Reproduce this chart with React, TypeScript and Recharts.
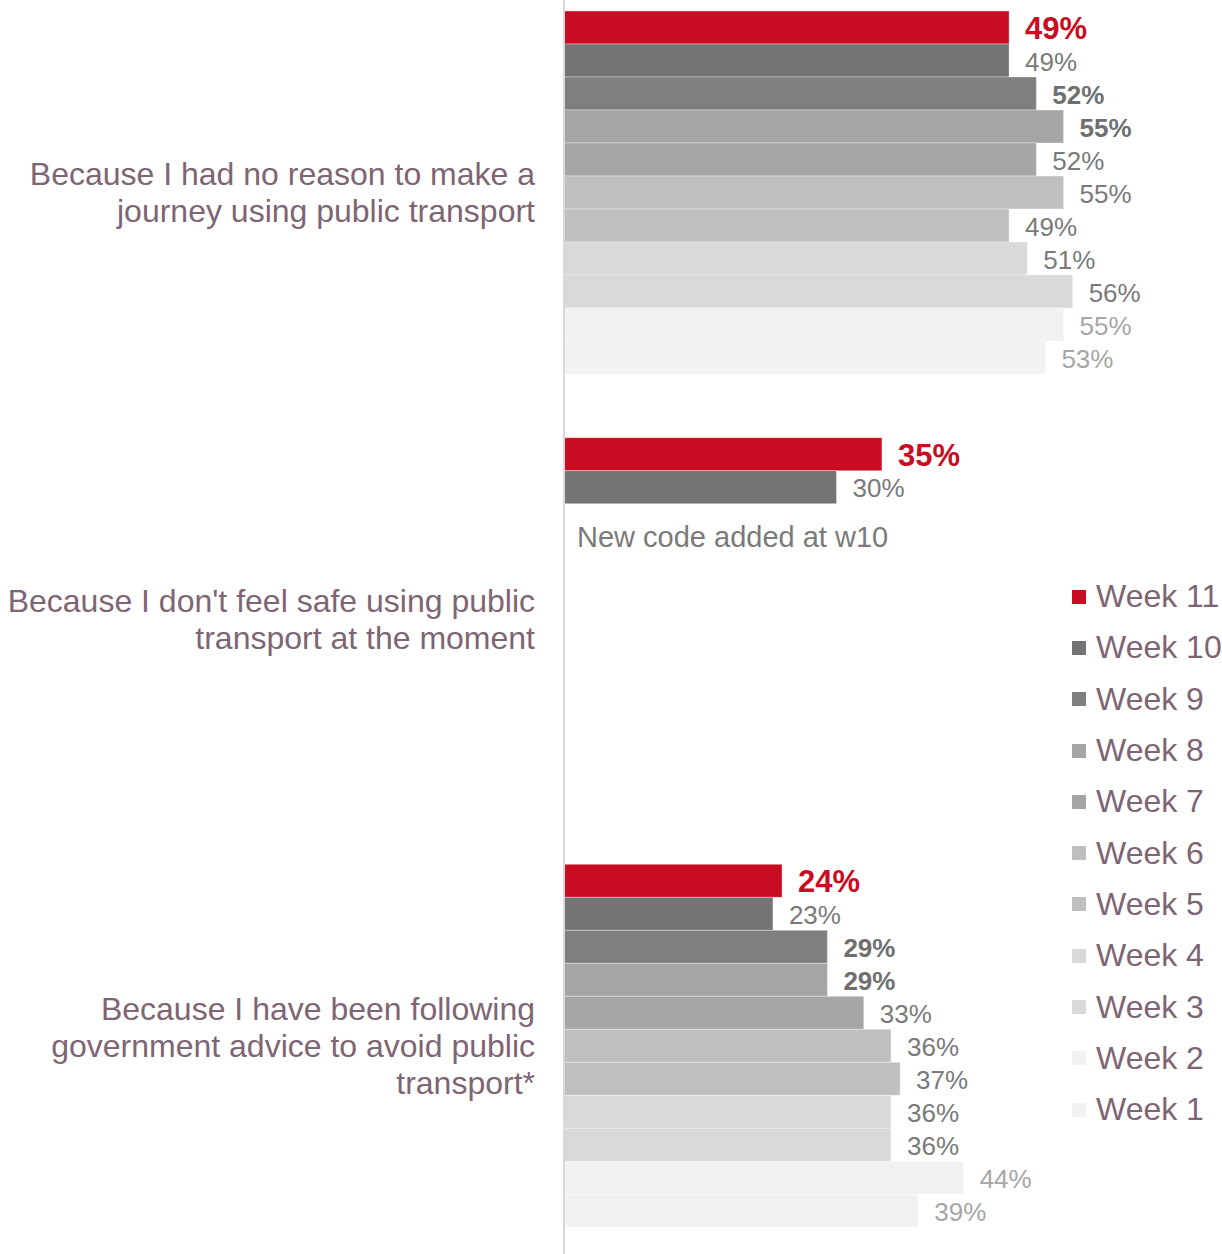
import React from 'react';
import { BarChart, Bar, XAxis, YAxis, Legend, LabelList } from 'recharts';

const categories = [
  ['Because I had no reason to make a', 'journey using public transport'],
  ["Because I don't feel safe using public", 'transport at the moment'],
  ['Because I have been following', 'government advice to avoid public', 'transport*'],
];

const weeks = ['Week 11', 'Week 10', 'Week 9', 'Week 8', 'Week 7', 'Week 6', 'Week 5', 'Week 4', 'Week 3', 'Week 2', 'Week 1'];
const week11 = [49, 35, 24];
const week10 = [49, 30, 23];
const week9 = [52, null, 29];
const week8 = [55, null, 29];
const week7 = [52, null, 33];
const week6 = [55, null, 36];
const week5 = [49, null, 37];
const week4 = [51, null, 36];
const week3 = [56, null, 36];
const week2 = [55, null, 44];
const week1 = [53, null, 39];
const notes = ['', 'New code added at w10', ''];

const series = [week11, week10, week9, week8, week7, week6, week5, week4, week3, week2, week1];
const COLORS = ['#C90C21', '#747474', '#7f7f7f', '#a5a5a5', '#a5a5a5', '#bfbfbf', '#bfbfbf', '#d9d9d9', '#d9d9d9', '#f2f2f2', '#f2f2f2'];
const FONT = '"Liberation Sans", Arial, sans-serif';
const MAUVE = '#7e6574';

const data = categories.map((lines, i) => {
  const row: any = { name: lines.join('|'), note: notes[i] };
  series.forEach((s, j) => {
    row['w' + j] = s[i];
  });
  return row;
});

function labelStyle(j: number) {
  if (j === 0) return { fill: '#C90C21', fontWeight: 700, fontSize: 31 };
  if (j === 2 || j === 3) return { fill: '#6f6f6f', fontWeight: 700, fontSize: 26 };
  if (j >= 9) return { fill: '#a6a6a6', fontWeight: 400, fontSize: 26 };
  return { fill: '#7a7a7a', fontWeight: 400, fontSize: 26 };
}

const CategoryTick = ({ y, payload }: any) => {
  const lines = String(payload.value).split('|');
  const first = y - ((lines.length - 1) * 37) / 2 - 1.5;
  return (
    <text x={535} y={first} textAnchor="end" fill={MAUVE} fontSize={32} fontFamily={FONT}>
      {lines.map((l, i) => (
        <tspan key={i} x={535} y={first + i * 37} dominantBaseline="central">
          {l}
        </tspan>
      ))}
    </text>
  );
};

const LegendList = () => (
  <div style={{ fontFamily: FONT }}>
    {weeks.map((w, i) => (
      <div key={w} style={{ height: 51.3, display: 'flex', alignItems: 'center' }}>
        <span style={{ width: 14, height: 14, background: COLORS[i], display: 'inline-block', marginRight: 10 }} />
        <span style={{ color: MAUVE, fontSize: 32 }}>{w}</span>
      </div>
    ))}
  </div>
);

export default function App() {
  return (
    <div style={{ position: 'absolute', left: 0, top: 0, width: 1222, height: 1254, overflow: 'hidden', background: '#fff' }}>
      <div style={{ position: 'absolute', left: 0, top: -19 }}>
        <BarChart
          width={1222}
          height={1280}
          data={data}
          layout="vertical"
          margin={{ top: 0, right: 4, bottom: 0, left: 0 }}
          barCategoryGap={30}
          barGap={0}
        >
          <XAxis type="number" domain={[0, 72]} hide />
          <YAxis
            type="category"
            dataKey="name"
            width={564}
            tickLine={false}
            axisLine={{ stroke: '#d9d9d9', strokeWidth: 2 }}
            tick={<CategoryTick />}
            interval={0}
          />
          <Legend
            layout="vertical"
            align="center"
            verticalAlign="middle"
            wrapperStyle={{ left: 1072, top: 590, width: 150 }}
            content={<LegendList />}
          />
          {weeks.map((w, j) => (
            <Bar
              key={w}
              dataKey={'w' + j}
              name={w}
              fill={COLORS[j]}
              stroke="#ffffff"
              strokeOpacity={0.35}
              strokeWidth={1}
              isAnimationActive={false}
            >
              <LabelList
                dataKey={'w' + j}
                content={(p: any) => {
                  if (p.value == null) return null;
                  const st = labelStyle(j);
                  return (
                    <text
                      x={p.x + p.width + 16}
                      y={p.y + p.height / 2 + 1}
                      dominantBaseline="central"
                      fontFamily={FONT}
                      {...st}
                    >
                      {p.value}%
                    </text>
                  );
                }}
              />
              {j === 1 && (
                <LabelList
                  dataKey="note"
                  content={(p: any) => {
                    if (!p.value) return null;
                    return (
                      <text
                        x={577}
                        y={p.y + p.height * 2}
                        dominantBaseline="central"
                        fontFamily={FONT}
                        fontSize={29}
                        fill="#7a7a7a"
                      >
                        {p.value}
                      </text>
                    );
                  }}
                />
              )}
            </Bar>
          ))}
        </BarChart>
      </div>
    </div>
  );
}
